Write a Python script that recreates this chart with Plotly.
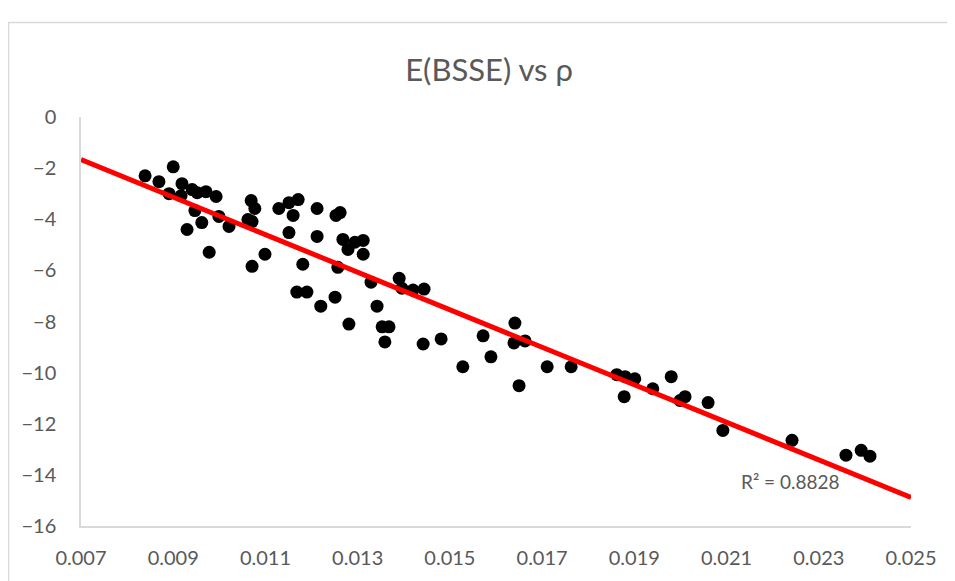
import numpy as np
import plotly.graph_objects as go

# Data
rho = [0.00839, 0.00869, 0.00900, 0.00891, 0.00919, 0.00917, 0.00941, 0.00952, 0.00971, 0.00993,
       0.00947, 0.00962, 0.00930, 0.00999, 0.01021, 0.00978, 0.01069, 0.01077, 0.01062, 0.01071,
       0.01071, 0.01099, 0.01129, 0.01151, 0.01171, 0.01160, 0.01151, 0.01212, 0.01212, 0.01181,
       0.01253, 0.01262, 0.01268, 0.01279, 0.01294, 0.01312, 0.01312, 0.01168, 0.01190, 0.01220,
       0.01251, 0.01257, 0.01329, 0.01342, 0.01281, 0.01353, 0.01368, 0.01359, 0.01390, 0.01396,
       0.01420, 0.01444, 0.01442, 0.01481, 0.01528, 0.01572, 0.01589, 0.01641, 0.01639, 0.01663,
       0.01650, 0.01711, 0.01763, 0.01862, 0.01880, 0.01901, 0.01878, 0.01940, 0.01980, 0.01999,
       0.02010, 0.02060, 0.02092, 0.02242, 0.02359, 0.02392, 0.02411]
ebsse = [-2.30, -2.53, -1.95, -3.00, -2.61, -3.08, -2.84, -2.96, -2.92, -3.11,
         -3.66, -4.13, -4.40, -3.89, -4.28, -5.29, -3.27, -3.58, -4.01, -4.09,
         -5.84, -5.37, -3.58, -3.35, -3.23, -3.85, -4.52, -3.58, -4.67, -5.76,
         -3.85, -3.74, -4.79, -5.18, -4.90, -4.83, -5.37, -6.85, -6.85, -7.40,
         -7.05, -5.88, -6.46, -7.40, -8.10, -8.21, -8.21, -8.80, -6.31, -6.70,
         -6.77, -6.73, -8.88, -8.68, -9.77, -8.56, -9.38, -8.06, -8.84, -8.76,
         -10.51, -9.77, -9.77, -10.08, -10.16, -10.24, -10.94, -10.63, -10.16, -11.09,
         -10.94, -11.17, -12.26, -12.65, -13.23, -13.04, -13.27]

x_range = [0.007, 0.025]
y_range = [-16, 0]
x_ticks = [0.007, 0.009, 0.011, 0.013, 0.015, 0.017, 0.019, 0.021, 0.023, 0.025]
y_ticks = [0, -2, -4, -6, -8, -10, -12, -14, -16]
r2_label = "R² = 0.8828"
title_text = "E(BSSE) vs ρ"

# Linear trendline fitted to the data
slope, intercept = np.polyfit(rho, ebsse, 1)
trend_x = np.array(x_range)
trend_y = slope * trend_x + intercept

TXT = "#595959"
AX = "#d9d9d9"
FONT = "Lato"

fig = go.Figure()
fig.add_trace(go.Scatter(
    x=rho, y=ebsse, mode="markers",
    marker=dict(color="black", size=13, line=dict(width=0)),
    showlegend=False, hoverinfo="x+y"))
fig.add_trace(go.Scatter(
    x=trend_x, y=trend_y, mode="lines",
    line=dict(color="#ff0000", width=5),
    showlegend=False, hoverinfo="skip"))

fig.update_layout(
    width=947, height=573,
    margin=dict(l=73, r=44, t=109, b=53),
    paper_bgcolor="white", plot_bgcolor="white",
    font=dict(family=FONT, color=TXT, size=20),
    title=dict(text=title_text, x=0.508, xanchor="center", y=0.892, yanchor="middle",
               font=dict(family=FONT, size=31, color=TXT)),
    xaxis=dict(range=x_range, tickvals=x_ticks, tickformat=".3f",
               showgrid=False, zeroline=False, showline=True, linecolor=AX, linewidth=1.5,
               ticks="", ticklabelstandoff=13,
               tickfont=dict(family=FONT, size=20, color=TXT)),
    yaxis=dict(range=y_range, tickvals=y_ticks,
               showgrid=False, zeroline=False, showline=True, linecolor=AX, linewidth=1.5,
               ticks="", ticklabelstandoff=19,
               tickfont=dict(family=FONT, size=20, color=TXT)),
    annotations=[dict(text=r2_label, x=0.02238, y=-14.25, xref="x", yref="y",
                      showarrow=False, font=dict(family=FONT, size=19, color=TXT))],
    shapes=[dict(type="rect", xref="paper", yref="paper",
                 x0=-0.0873, x1=1.2, y0=-0.3, y1=1.231,
                 line=dict(color=AX, width=1.5), fillcolor="rgba(0,0,0,0)", layer="below")],
)

fig.write_html("out.html")
